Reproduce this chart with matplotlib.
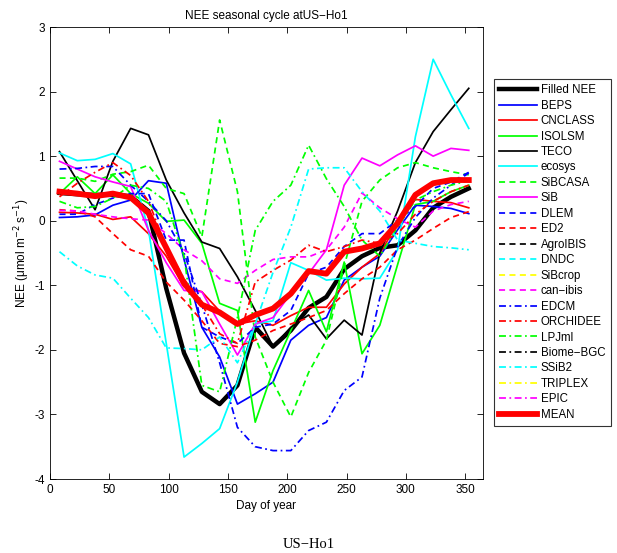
import numpy as np
import matplotlib
matplotlib.use("Agg")
import matplotlib.pyplot as plt

plt.rcParams['font.family'] = ['Liberation Sans', 'DejaVu Sans']
plt.rcParams['axes.unicode_minus'] = False

day = [8, 23, 38, 53, 68, 83, 98, 113, 128, 143, 158, 173, 188, 203, 218, 233, 248, 263, 278, 293, 308, 323, 338, 353]
nan = float('nan')
NA = [nan] * 24

filled_nee = [0.43, 0.41, 0.40, 0.40, 0.38, 0.15, -1.05, -2.05, -2.65, -2.84, -2.55, -1.65, -1.95, -1.70, -1.35, -1.18, -0.75, -0.55, -0.42, -0.38, -0.15, 0.20, 0.37, 0.50]
beps = [0.05, 0.06, 0.09, 0.24, 0.32, 0.62, 0.58, -0.60, -1.65, -2.11, -2.84, -2.68, -2.50, -1.85, -1.62, -1.50, -0.92, -0.72, -0.55, -0.14, 0.24, 0.22, 0.19, 0.11]
cnclass = [0.13, 0.12, 0.10, 0.02, 0.06, -0.20, -0.55, -1.02, -1.10, -1.40, -1.60, -1.55, -1.62, -1.47, -1.34, -1.34, -0.98, -0.72, -0.51, -0.04, 0.33, 0.30, 0.28, 0.20]
isolsm = [0.42, 0.68, 0.42, 0.71, 0.42, 0.27, -0.01, 0.01, -0.35, -1.28, -1.39, -3.12, -2.32, -1.70, -1.08, -1.72, -0.64, -2.06, -1.62, -0.68, 0.25, 0.30, 0.45, 0.55]
teco = [1.07, 0.62, 0.17, 0.92, 1.43, 1.33, 0.63, 0.12, -0.33, -0.43, -0.87, -1.39, -1.95, -1.65, -1.46, -1.83, -1.54, -1.77, -0.50, 0.15, 0.90, 1.38, 1.72, 2.05]
ecosys = [1.05, 0.93, 0.95, 1.04, 0.88, -0.14, -1.90, -3.66, -3.45, -3.22, -2.50, -1.60, -1.55, -0.65, -0.77, -0.92, -0.89, -0.90, -0.89, -0.45, 1.30, 2.50, 1.95, 1.43]
sibcasa = [0.66, 0.66, 0.61, 0.72, 0.76, 0.86, 0.50, 0.42, -0.25, 1.56, 0.45, -1.80, -2.50, -3.04, -2.35, -1.85, -0.70, 0.30, 0.63, 0.82, 0.90, 0.82, 0.76, 0.71]
sib = [0.92, 0.80, 0.68, 0.60, 0.53, -0.15, -0.65, -1.08, -1.10, -1.60, -2.08, -1.60, -1.50, -1.13, -0.82, -0.45, 0.55, 0.97, 0.85, 1.02, 1.16, 1.00, 1.12, 1.09]
dlem = [0.10, 0.10, 0.25, 0.35, 0.42, 0.42, -0.30, -0.30, -1.65, -1.80, -1.90, -1.65, -1.60, -1.39, -0.82, -0.72, -0.40, -0.20, -0.20, 0.01, 0.22, 0.50, 0.60, 0.75]
ed2 = [0.17, 0.15, 0.06, -0.20, -0.45, -0.55, -0.95, -1.23, -1.55, -1.90, -1.95, -1.85, -1.70, -1.60, -1.50, -1.39, -1.13, -0.90, -0.72, -0.45, -0.30, -0.12, 0.05, 0.14]
agroibis = NA
dndc = NA
sibcrop = NA
canibis = [0.16, 0.15, 0.10, 0.06, 0.03, 0.01, -0.20, -0.45, -0.62, -0.90, -0.97, -0.77, -0.60, -0.56, -0.56, -0.45, -0.10, 0.43, 0.20, 0.03, -0.10, 0.15, 0.25, 0.30]
edcm = [0.80, 0.81, 0.84, 0.84, 0.55, 0.30, 0.00, -0.50, -1.30, -2.20, -3.20, -3.50, -3.56, -3.56, -3.25, -3.12, -2.63, -2.42, -1.20, -0.40, 0.05, 0.35, 0.55, 0.74]
orchidee = [0.37, 0.58, 0.75, 0.90, 0.70, 0.30, -0.40, -0.90, -1.30, -1.75, -1.90, -0.95, -0.77, -0.61, -0.38, -0.48, -0.40, -0.30, -0.35, -0.20, 0.10, 0.30, 0.45, 0.55]
lpjml = [0.30, 0.20, 0.22, 0.35, 0.55, 0.50, 0.30, -0.55, -2.55, -2.65, -1.50, -0.15, 0.30, 0.55, 1.17, 0.65, 0.22, -0.30, -0.55, -0.10, 0.32, 0.45, 0.55, 0.62]
biomebgc = NA
ssib2 = [-0.48, -0.70, -0.84, -0.89, -1.20, -1.50, -1.97, -1.98, -2.00, -1.80, -2.20, -1.60, -0.80, -0.10, 0.80, 0.82, 0.82, 0.45, 0.15, -0.30, -0.35, -0.40, -0.42, -0.45]
triplex = NA
epic = NA
mean = [0.45, 0.42, 0.38, 0.42, 0.36, 0.12, -0.42, -0.97, -1.30, -1.42, -1.60, -1.46, -1.36, -1.13, -0.78, -0.82, -0.48, -0.43, -0.35, -0.04, 0.40, 0.58, 0.63, 0.63]

names = ['Filled NEE', 'BEPS', 'CNCLASS', 'ISOLSM', 'TECO', 'ecosys', 'SiBCASA', 'SiB',
         'DLEM', 'ED2', 'AgroIBIS', 'DNDC', 'SiBcrop', 'can\u2212ibis', 'EDCM', 'ORCHIDEE',
         'LPJml', 'Biome\u2212BGC', 'SSiB2', 'TRIPLEX', 'EPIC', 'MEAN']
series = [filled_nee, beps, cnclass, isolsm, teco, ecosys, sibcasa, sib, dlem, ed2,
          agroibis, dndc, sibcrop, canibis, edcm, orchidee, lpjml, biomebgc, ssib2,
          triplex, epic, mean]

K, B, R, G, C, M, Y = 'k', (0, 0, 1), (1, 0, 0), (0, 1, 0), (0, 1, 1), (1, 0, 1), (1, 1, 0)
dash = (0, (3.5, 2.5))
dashdot = (0, (4, 2, 1, 2))
tw = 1.25
styles = [
    (K, '-', 3.2), (B, '-', tw), (R, '-', tw), (G, '-', tw), (K, '-', tw), (C, '-', tw),
    (G, dash, tw), (M, '-', tw), (B, dash, tw), (R, dash, tw), (K, dash, tw),
    (C, dash, tw), (Y, dash, tw), (M, dash, tw), (B, dashdot, tw), (R, dashdot, tw),
    (G, dashdot, tw), (K, dashdot, tw), (C, dashdot, tw), (Y, dashdot, tw),
    (M, dashdot, tw), (R, '-', 4.2)]

fig = plt.figure(figsize=(6.17, 5.53), dpi=100)
ax = fig.add_axes([50/617, 1-479/553, 433/617, 452/553])

handles = []
for i, (name, vals) in enumerate(zip(names, series)):
    col, ls, lw = styles[i]
    ln, = ax.plot(day, vals, color=col, linestyle=ls, linewidth=lw, label=name,
                  zorder=10 if name == 'MEAN' else 2)
    handles.append(ln)

ax.set_xlim(0, 365)
ax.set_ylim(-4, 3)
ax.set_xticks(range(0, 351, 50))
ax.set_yticks(range(-4, 4))
ax.tick_params(direction='in', top=True, right=True, labelsize=8.5, length=4, width=0.6)
for s in ax.spines.values():
    s.set_linewidth(0.6)
ax.set_xlabel('Day of year', fontsize=8.5, labelpad=3)
ax.set_ylabel('NEE (\u03bcmol m$^{-2}$ s$^{-1}$)', fontsize=8.5, labelpad=2)
ax.set_title('NEE seasonal cycle atUS\u2212Ho1', fontsize=8.5, pad=6)

leg = fig.legend(handles=handles, loc='upper left', bbox_to_anchor=(494/617, 1-79/553),
                 fontsize=8.3, frameon=True, fancybox=False, edgecolor='k',
                 handlelength=3.3, handletextpad=0.3, labelspacing=0.3,
                 borderpad=0.45, borderaxespad=0)
leg.get_frame().set_linewidth(0.8)

fig.text(0.5, 1-544/553, 'US\u2212Ho1', ha='center', va='center', fontsize=10.5,
         family=['Liberation Serif', 'DejaVu Serif'])

fig.savefig('out.png', dpi=100)
